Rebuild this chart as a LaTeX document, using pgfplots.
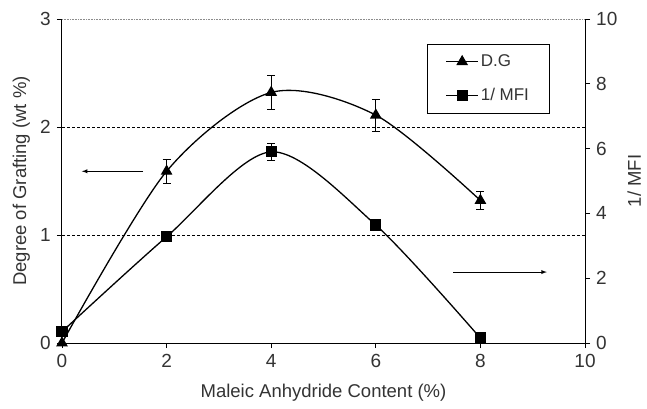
\documentclass[border=0pt]{standalone}
\usepackage{pgfplots}
\pgfplotsset{compat=1.18}
\usepackage{fontspec}
\setmainfont{Liberation Sans}
\begin{document}
\fontsize{18}{21}\selectfont
\begin{tikzpicture}
\path[use as bounding box] (-62pt,-65pt) rectangle (585pt,343pt);
\pgfplotsset{
  every axis/.append style={
    scale only axis, width=523pt, height=324pt,
    /pgf/number format/assume math mode=true,
    tick style={black, line width=0.8pt},
    tick align=outside,
    major tick length=5pt,
    every tick label/.append style={font=\fontsize{19}{22}\selectfont, text=black!80},
    label style={font=\fontsize{18.5}{21}\selectfont, text=black!80},
    axis line style={line width=1pt},
  }
}
\begin{axis}[
  at={(0,0)}, anchor=origin,
  xmin=0, xmax=10, ymin=0, ymax=3,
  xtick={0,2,4,6,8,10}, ytick={0,1,2,3},
  axis x line*=bottom, axis y line*=left,
  x axis line style={-}, y axis line style={-},
  xlabel={Maleic Anhydride Content (\%)},
  ylabel={Degree of Grafting (wt \%)},
  xlabel style={yshift=-4pt},
  ylabel style={yshift=-2pt},
  clip=false,
]
\draw[densely dashed, line width=0.8pt] (axis cs:0,1) -- (axis cs:10,1);
\draw[densely dashed, line width=0.8pt] (axis cs:0,2) -- (axis cs:10,2);
\draw[densely dotted, black!45, line width=0.6pt] (axis cs:0,3) -- (axis cs:10,3);
\addplot[black, line width=1.3pt, smooth, mark=triangle*, mark size=5.5pt,
  error bars/.cd, y dir=both, y explicit,
  error bar style={line width=0.7pt}, error mark options={rotate=90, mark size=4pt, line width=0.7pt}]
  coordinates {
  (0,0) +- (0,0)
  (2,1.59) +- (0,0.11)
  (4,2.32) +- (0,0.16)
  (6,2.11) +- (0,0.15)
  (8,1.32) +- (0,0.08)
  };
\draw[-latex, line width=0.9pt] (axis cs:1.55,1.59) -- (axis cs:0.38,1.59);
\end{axis}
\begin{axis}[
  at={(0,0)}, anchor=origin,
  xmin=0, xmax=10, ymin=0, ymax=10,
  ytick={0,2,4,6,8,10},
  axis x line=none, axis y line*=right,
  y axis line style={-},
  ylabel={1/ MFI},
  ylabel style={yshift=2pt},
  clip=false,
  legend style={at={(0.698,0.923)}, anchor=north west, draw=black, line width=0.9pt,
    font=\fontsize{17}{20}\selectfont, text=black!80, inner xsep=18pt, inner ysep=8pt,
    row sep=15pt},
  legend cell align=left,
  legend image code/.code={\draw[mark repeat=2, mark phase=2] plot coordinates {(0pt,0pt) (16pt,0pt) (32pt,0pt)};},
]
\addlegendimage{black, line width=1.3pt, mark=triangle*, mark size=5.5pt}
\addlegendentry{D.G}
\addplot[black, line width=1.3pt, smooth, mark=square*, mark size=5pt,
  error bars/.cd, y dir=both, y explicit,
  error bar style={line width=0.7pt}, error mark options={rotate=90, mark size=4pt, line width=0.7pt}]
  coordinates {
  (0,0.35) +- (0,0)
  (2,3.28) +- (0,0.1)
  (4,5.90) +- (0,0.27)
  (6,3.64) +- (0,0.1)
  (8,0.15) +- (0,0)
  };
\addlegendentry{1/ MFI}
\draw[-latex, line width=0.9pt] (axis cs:7.48,2.19) -- (axis cs:9.27,2.19);
\end{axis}
\end{tikzpicture}
\end{document}
